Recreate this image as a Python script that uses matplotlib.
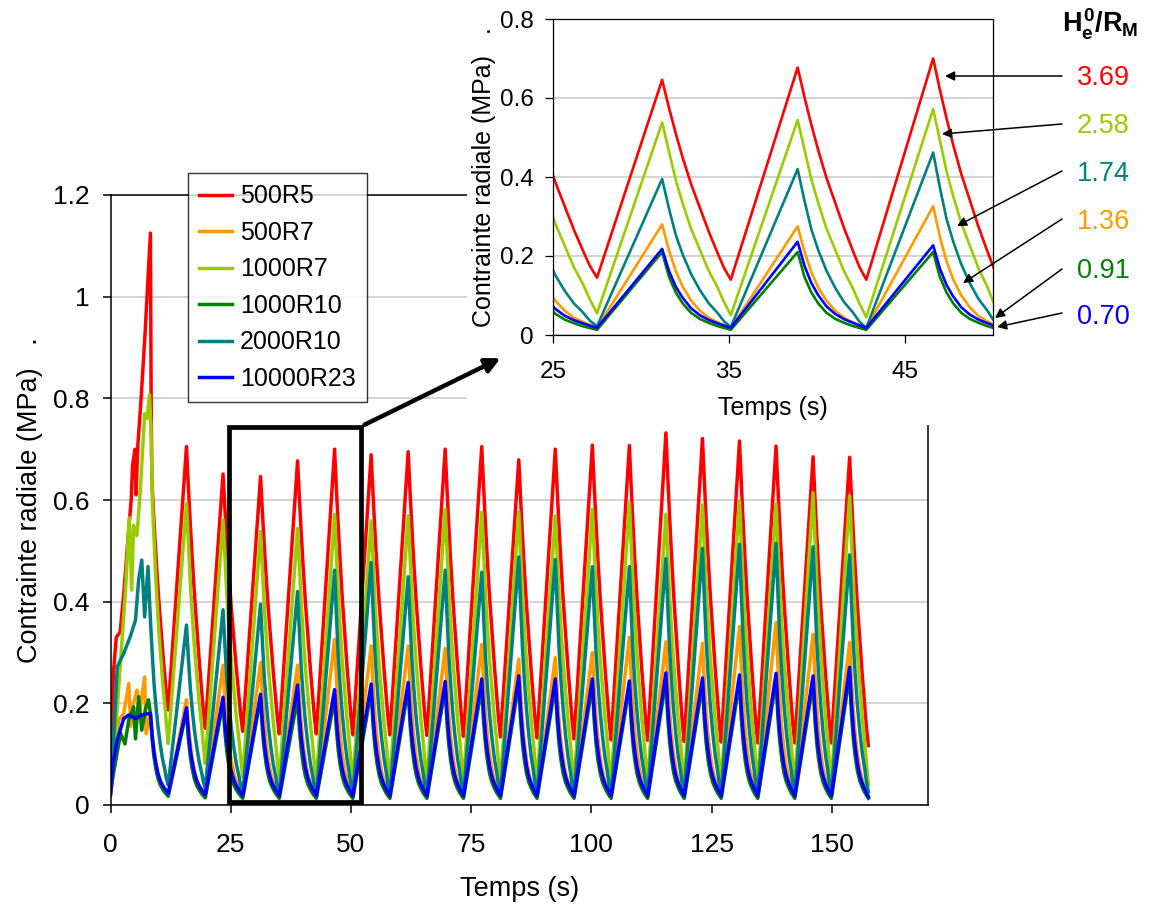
import matplotlib
matplotlib.use('Agg')
import matplotlib.pyplot as plt
from matplotlib.patches import Rectangle, FancyArrowPatch
from matplotlib.ticker import FuncFormatter

plt.rcParams['font.family'] = ['Liberation Sans', 'DejaVu Sans']
plt.rcParams['mathtext.fontset'] = 'custom'
plt.rcParams['mathtext.rm'] = 'Liberation Sans:bold'
plt.rcParams['mathtext.it'] = 'Liberation Sans:bold'
plt.rcParams['mathtext.bf'] = 'Liberation Sans:bold'

# ---- data ----
names = ['500R5', '500R7', '1000R7', '1000R10', '2000R10', '10000R23']
colors = ['#FF0000', '#FF9900', '#99CC00', '#008000', '#008080', '#0000FF']

# times of the cycle peaks / troughs (s); last "trough" is the end of the record
peak_t = [15.8, 23.4, 31.2, 38.9, 46.6, 54.2, 61.9, 69.6, 77.2, 84.9,
          92.5, 100.2, 107.9, 115.5, 123.1, 130.8, 138.4, 146.1, 153.7]
trough_t = [12.0, 19.7, 27.5, 35.1, 42.8, 50.4, 58.1, 65.8, 73.4, 81.1,
            88.7, 96.4, 104.1, 111.7, 119.3, 127.0, 134.6, 142.3, 149.9, 157.6]

# first seconds (loading phase), (t, stress)
early_500R5 = [(0, 0.03), (0.6, 0.26), (1.2, 0.33), (2.0, 0.34), (2.8, 0.42), (3.6, 0.52),
               (4.3, 0.60), (4.6, 0.67), (5.1, 0.70), (5.3, 0.61), (5.7, 0.71), (6.3, 0.79),
               (7.2, 0.93), (8.3, 1.125), (8.45, 0.80), (8.6, 0.64)]
early_500R7 = [(0, 0.02), (0.4, 0.05), (1.7, 0.167), (2.75, 0.18), (3.8, 0.239), (4.2, 0.155),
               (4.8, 0.20), (5.5, 0.226), (6.2, 0.193), (7.1, 0.252), (7.4, 0.14), (8.3, 0.18)]
early_1000R7 = [(0, 0.03), (0.4, 0.06), (1.7, 0.23), (3.1, 0.42), (3.9, 0.565), (4.4, 0.423),
                (4.8, 0.55), (5.5, 0.53), (6.2, 0.62), (7.1, 0.77), (7.6, 0.76), (8.1, 0.807),
                (8.4, 0.75), (8.7, 0.60)]
early_1000R10 = [(0, 0.02), (0.4, 0.05), (2.1, 0.141), (3.0, 0.12), (3.8, 0.167), (4.8, 0.193),
                 (5.2, 0.13), (5.85, 0.213), (6.5, 0.147), (7.3, 0.19), (7.9, 0.207), (8.3, 0.18)]
early_2000R10 = [(0, 0.03), (0.4, 0.08), (1.4, 0.272), (2.75, 0.298), (4.1, 0.331), (5.2, 0.364),
                 (5.85, 0.443), (6.5, 0.482), (7.1, 0.37), (7.8, 0.469), (8.3, 0.364)]
early_10000R23 = [(0, 0.02), (0.5, 0.08), (1.4, 0.128), (2.75, 0.17), (3.8, 0.177), (5.2, 0.17),
                  (6.5, 0.177), (7.9, 0.18), (8.3, 0.18)]

peaks_500R5 = [0.705, 0.651, 0.646, 0.677, 0.700, 0.689, 0.695, 0.700, 0.705, 0.679,
               0.700, 0.708, 0.707, 0.732, 0.721, 0.716, 0.706, 0.685, 0.684]
peaks_500R7 = [0.207, 0.275, 0.280, 0.275, 0.326, 0.313, 0.313, 0.308, 0.316, 0.287,
               0.290, 0.300, 0.330, 0.321, 0.318, 0.351, 0.359, 0.336, 0.320]
peaks_1000R7 = [0.593, 0.561, 0.538, 0.544, 0.572, 0.559, 0.569, 0.582, 0.576, 0.577,
                0.569, 0.582, 0.595, 0.572, 0.590, 0.599, 0.592, 0.614, 0.608]
peaks_1000R10 = [0.185, 0.200, 0.210, 0.210, 0.210, 0.225, 0.228, 0.230, 0.233, 0.240,
                 0.235, 0.235, 0.232, 0.245, 0.237, 0.242, 0.245, 0.240, 0.255]
peaks_2000R10 = [0.354, 0.384, 0.395, 0.420, 0.462, 0.477, 0.449, 0.462, 0.458, 0.488,
                 0.483, 0.469, 0.469, 0.485, 0.505, 0.513, 0.515, 0.508, 0.492]
peaks_10000R23 = [0.191, 0.212, 0.218, 0.236, 0.227, 0.238, 0.241, 0.243, 0.248, 0.254,
                  0.248, 0.248, 0.244, 0.260, 0.250, 0.256, 0.259, 0.254, 0.271]

troughs_500R5 = [0.187, 0.151, 0.145, 0.140, 0.140, 0.138, 0.138, 0.137, 0.135, 0.134,
                 0.132, 0.130, 0.128, 0.127, 0.125, 0.124, 0.122, 0.122, 0.122, 0.117]
troughs_500R7 = [0.020, 0.018, 0.018, 0.017, 0.017, 0.017, 0.017, 0.017, 0.017, 0.017,
                 0.017, 0.017, 0.017, 0.017, 0.017, 0.017, 0.017, 0.017, 0.017, 0.018]
troughs_1000R7 = [0.121, 0.082, 0.055, 0.050, 0.045, 0.047, 0.046, 0.046, 0.045, 0.045,
                  0.044, 0.044, 0.044, 0.043, 0.043, 0.042, 0.042, 0.041, 0.041, 0.040]
troughs_1000R10 = [0.017, 0.014, 0.013, 0.013, 0.013, 0.013, 0.013, 0.013, 0.013, 0.013,
                   0.013, 0.013, 0.013, 0.013, 0.013, 0.013, 0.013, 0.013, 0.013, 0.013]
troughs_2000R10 = [0.039, 0.033, 0.022, 0.020, 0.018, 0.020, 0.020, 0.020, 0.020, 0.020,
                   0.020, 0.020, 0.020, 0.020, 0.020, 0.020, 0.020, 0.020, 0.020, 0.026]
troughs_10000R23 = [0.023, 0.020, 0.018, 0.018, 0.018, 0.018, 0.018, 0.018, 0.018, 0.018,
                    0.018, 0.018, 0.018, 0.018, 0.018, 0.018, 0.018, 0.018, 0.018, 0.016]

# shape of the relaxation after each peak (read on the zoom, 25-50 s):
# fraction of the fall already spent -> fraction of the amplitude left
decay_u = [0.1, 0.2, 0.3, 0.42, 0.55, 0.68, 0.8, 0.9]
decay_500R5 = [0.86, 0.73, 0.61, 0.48, 0.36, 0.24, 0.14, 0.06]
decay_500R7 = [0.75, 0.55, 0.40, 0.27, 0.17, 0.10, 0.06, 0.03]
decay_1000R7 = [0.85, 0.70, 0.58, 0.45, 0.34, 0.23, 0.15, 0.07]
decay_1000R10 = [0.68, 0.48, 0.34, 0.22, 0.14, 0.09, 0.05, 0.025]
decay_2000R10 = [0.80, 0.62, 0.49, 0.36, 0.25, 0.16, 0.10, 0.04]
decay_10000R23 = [0.72, 0.52, 0.38, 0.25, 0.16, 0.10, 0.06, 0.03]

early = [early_500R5, early_500R7, early_1000R7, early_1000R10, early_2000R10, early_10000R23]
peaks = [peaks_500R5, peaks_500R7, peaks_1000R7, peaks_1000R10, peaks_2000R10, peaks_10000R23]
troughs = [troughs_500R5, troughs_500R7, troughs_1000R7, troughs_1000R10, troughs_2000R10,
           troughs_10000R23]
decays = [decay_500R5, decay_500R7, decay_1000R7, decay_1000R10, decay_2000R10, decay_10000R23]

# right-hand labels He0/RM
ratio_txt = ['3.69', '2.58', '1.74', '1.36', '0.91', '0.70']
ratio_col = ['#FF0000', '#99CC00', '#008080', '#FF9900', '#008000', '#0000FF']


def build(pts, pk, tr, dec):
    t = [p[0] for p in pts]
    v = [p[1] for p in pts]
    starts = [pts[-1]] + list(zip(peak_t, pk))
    for i in range(len(trough_t)):
        tp, vp = starts[i]
        tt, vt = trough_t[i], tr[i]
        for u, f in zip(decay_u, dec):
            t.append(tp + u * (tt - tp))
            v.append(vt + f * (vp - vt))
        t.append(tt)
        v.append(vt)
        if i < len(peak_t):
            t.append(peak_t[i])
            v.append(pk[i])
    return t, v


curves = [build(early[i], peaks[i], troughs[i], decays[i]) for i in range(len(names))]

W, H = 1151, 906
fig = plt.figure(figsize=(W / 100, H / 100), dpi=100)


def fx(x):
    return x / W


def fy(y):
    return 1 - y / H


fmt = FuncFormatter(lambda v, p: '%g' % round(v, 2))

# ---- main chart ----
ax = fig.add_axes([fx(110.5), fy(805), fx(928) - fx(110.5), fy(195) - fy(805)])
for i in range(len(names)):
    ax.plot(curves[i][0], curves[i][1], color=colors[i], lw=2.5, label=names[i], zorder=2 + i * 0.1)
ax.set_xlim(0, 170)
ax.set_ylim(0, 1.2)
ax.set_xticks([0, 25, 50, 75, 100, 125, 150])
ax.set_yticks([0, 0.2, 0.4, 0.6, 0.8, 1.0, 1.2])
ax.yaxis.set_major_formatter(fmt)
ax.grid(axis='y', color='#C8C8C8', lw=1.1)
ax.set_axisbelow(True)
for s in ax.spines.values():
    s.set_color('black')
    s.set_linewidth(1.1)
ax.tick_params(axis='both', direction='out', length=6, width=1.1, colors='black', labelsize=19)
ax.tick_params(axis='x', pad=14)
ax.tick_params(axis='y', pad=9)
ax.set_xlabel('Temps (s)', fontsize=19.5, labelpad=14)
ax.set_ylabel('Contrainte radiale (MPa)   .', fontsize=19.5, labelpad=7)

leg = ax.legend(loc='upper left', bbox_to_anchor=(fx(188), fy(173)), bbox_transform=fig.transFigure,
                borderaxespad=0, fontsize=18, frameon=True, fancybox=False, handlelength=1.3,
                handletextpad=0.32, labelspacing=0.5, borderpad=0.45)
leg.get_frame().set_edgecolor('black')
leg.get_frame().set_linewidth(1.0)
leg.set_zorder(20)

# zoom window on the main chart
ax.add_patch(Rectangle((24.6, 0.0065), 27.5, 0.7375, fill=False, ec='black', lw=3.4,
                       zorder=10, clip_on=False))

# ---- white panel behind the zoom ----
panel = fig.add_axes([fx(467), fy(425), 1 - fx(467), fy(0) - fy(425)])
panel.set_xticks([])
panel.set_yticks([])
for s in panel.spines.values():
    s.set_visible(False)
panel.set_facecolor('white')

# ---- inset (zoom 25-50 s) ----
axi = fig.add_axes([fx(553), fy(335), fx(993) - fx(553), fy(19) - fy(335)])
for i in range(len(names)):
    axi.plot(curves[i][0], curves[i][1], color=colors[i], lw=1.9, zorder=2 + i * 0.1)
axi.set_xlim(25, 50)
axi.set_ylim(0, 0.8)
axi.set_xticks([25, 35, 45])
axi.set_yticks([0, 0.2, 0.4, 0.6, 0.8])
axi.yaxis.set_major_formatter(fmt)
axi.grid(axis='y', color='#C8C8C8', lw=1.1)
axi.set_axisbelow(True)
for s in axi.spines.values():
    s.set_color('black')
    s.set_linewidth(0.9)
axi.tick_params(axis='both', direction='out', length=6, width=0.9, colors='black', labelsize=17.5)
axi.tick_params(axis='x', pad=13)
axi.tick_params(axis='y', pad=8)
axi.set_xlabel('Temps (s)', fontsize=18, labelpad=9)
axi.set_ylabel('Contrainte radiale (MPa)   .', fontsize=18, labelpad=3)

# big arrow from the zoom window to the inset
fig.add_artist(FancyArrowPatch((fx(362), fy(426)), (fx(503), fy(357)), transform=fig.transFigure,
                               arrowstyle='-|>', mutation_scale=22, lw=3.2, color='black', zorder=30))

# ---- He0/RM labels with arrows ----
fig.text(fx(1100), fy(24), r'$H_e^0/R_M$', fontsize=19.5, ha='center', va='center', zorder=30)
label_y = [78, 126, 174, 222, 271, 317]
tail_y = [76, 124, 171, 219, 269, 313]
tip_xy = [(945, 76), (942, 134), (957, 226), (963, 283), (995, 318), (997, 327)]
for k in range(len(ratio_txt)):
    fig.text(fx(1077), fy(label_y[k]), ratio_txt[k], color=ratio_col[k], fontsize=19.5,
             ha='left', va='center', zorder=30)
    fig.add_artist(FancyArrowPatch((fx(1062), fy(tail_y[k])), (fx(tip_xy[k][0]), fy(tip_xy[k][1])),
                                   transform=fig.transFigure, arrowstyle='-|>', mutation_scale=14,
                                   lw=1.1, color='black', shrinkA=0, shrinkB=0, zorder=30))

fig.savefig('out.png', dpi=100)
